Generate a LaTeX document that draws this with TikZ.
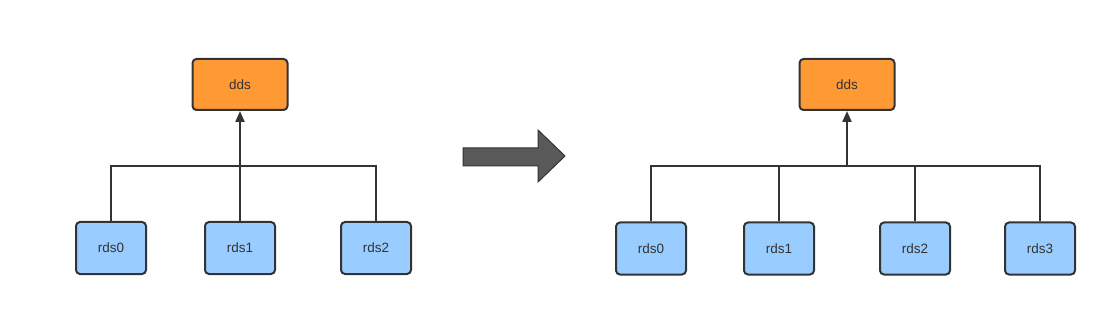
\documentclass[tikz,border=0pt]{standalone}
\usepackage{fontspec}
\setmainfont{Liberation Sans}
\usetikzlibrary{arrows.meta}
\definecolor{ddsfill}{HTML}{FF9933}
\definecolor{rdsfill}{HTML}{99CCFF}
\definecolor{edge}{HTML}{333333}
\definecolor{bigarrow}{HTML}{595959}
\tikzset{
  box/.style={draw=edge, line width=2pt, rounded corners=4pt, minimum width=70pt, minimum height=52pt, inner sep=0pt, font=\fontsize{13.5}{16}\selectfont, text=edge},
  ddsbox/.style={box, fill=ddsfill, minimum width=95pt, minimum height=51pt},
  rdsbox/.style={box, fill=rdsfill},
  conn/.style={draw=edge, line width=2pt},
  upconn/.style={draw=edge, line width=2.2pt, -{Triangle[length=11pt,width=9pt]}}
}
\begin{document}
\begin{tikzpicture}[x=1pt,y=-1pt]
\useasboundingbox[fill=white] (0,0) rectangle (1118,312);
% left tree
\node[ddsbox] (lD) at (240,84.5) {dds};
\node[rdsbox] (lR0) at (111,248) {rds0};
\node[rdsbox] (lR1) at (240,248) {rds1};
\node[rdsbox] (lR2) at (376,248) {rds2};
\coordinate (lJ) at (lR1.north |- 0,166);
\draw[conn] (lR0.north) |- (lJ) -| (lR2.north);
\draw[upconn] (lR1.north) -- (lR1.north |- lD.south);
% big arrow
\draw[draw=edge, fill=bigarrow, line width=1pt, line join=miter]
  (463,148) -- (538,148) -- (538,130) -- (565,156) -- (538,182) -- (538,166) -- (463,166) -- cycle;
% right tree
\node[ddsbox] (rD) at (847,84.5) {dds};
\node[rdsbox] (rR0) at (651,248.5) {rds0};
\node[rdsbox] (rR1) at (779,248.5) {rds1};
\node[rdsbox] (rR2) at (915,248.5) {rds2};
\node[rdsbox] (rR3) at (1040,248.5) {rds3};
\coordinate (rJ) at (847,166);
\draw[conn] (rR0.north) |- (rR3.north |- rJ) -- (rR3.north);
\draw[conn] (rR1.north) -- (rR1.north |- rJ);
\draw[conn] (rR2.north) -- (rR2.north |- rJ);
\draw[upconn] (rJ) -- (rJ |- rD.south);
\end{tikzpicture}
\end{document}
